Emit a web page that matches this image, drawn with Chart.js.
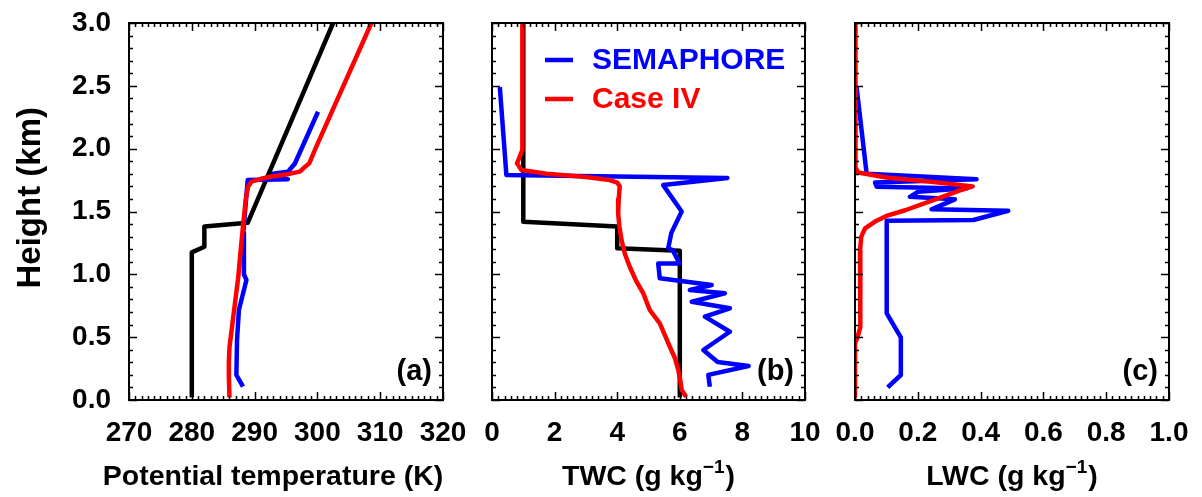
<!DOCTYPE html>
<html><head><meta charset="utf-8">
<script src="https://cdn.jsdelivr.net/npm/chart.js@4.4.0/dist/chart.umd.min.js"></script>
<style>
html,body{margin:0;padding:0;background:#fff;}
#wrap{position:relative;width:1202px;height:497px;overflow:hidden;}
canvas{position:absolute;left:0;top:0;}
</style></head><body>
<div id="wrap">
<canvas id="ca" width="1202" height="497"></canvas>
<canvas id="cb" width="1202" height="497"></canvas>
<canvas id="cc" width="1202" height="497"></canvas>
</div>
<script>
// ---------- data ----------
// panel (a): potential temperature (K) vs height (km)
const aInitTheta = [280, 280, 282, 282, 288.9, 302.5];
const aInitZ     = [0.02, 1.175, 1.22, 1.38, 1.41, 3.0];
const aSemTheta  = [300.1, 296.4, 295.3, 292.9, 295.3, 288.9, 288.2, 288.3, 288.7, 287.5, 287.2, 287.1, 288.15];
const aSemZ      = [2.294, 1.88, 1.816, 1.80, 1.756, 1.75, 1.33, 1.0, 0.955, 0.716, 0.477, 0.199, 0.106];
const aCaseTheta = [308.6, 299.6, 298.7, 297.9, 297.2, 295, 293, 291, 289.5, 288.95, 288.6, 288.15, 287.8, 287.4, 287.0, 286.6, 286.2, 286.0, 285.9, 285.9, 286.0];
const aCaseZ     = [3.0, 1.99, 1.883, 1.85, 1.817, 1.795, 1.78, 1.76, 1.737, 1.697, 1.6, 1.38, 1.2, 0.98, 0.82, 0.66, 0.5, 0.42, 0.3, 0.186, 0.02];

// panel (b): TWC (g/kg)
const bInitTWC = [6.0, 6.0, 4.0, 4.0, 1.0, 1.0];
const bInitZ   = [0.02, 1.188, 1.207, 1.38, 1.419, 3.0];
const bSemTWC  = [0.25, 0.46, 7.52, 5.47, 6.06, 5.73, 5.63, 5.77, 5.99, 5.31, 5.36, 7.02, 6.32, 7.44, 6.38, 7.6, 6.8, 7.6, 6.75, 7.21, 8.2, 6.91, 6.96];
const bSemZ    = [2.49, 1.79, 1.766, 1.71, 1.50, 1.33, 1.207, 1.193, 1.087, 1.087, 0.968, 0.915, 0.875, 0.849, 0.782, 0.73, 0.663, 0.543, 0.398, 0.302, 0.27, 0.2, 0.106];
const bCaseTWC = [0.97, 0.97, 0.8, 0.94, 1.74, 3.0, 3.76, 4.0, 4.08, 4.05, 4.03, 4.07, 4.14, 4.25, 4.40, 4.6, 4.83, 5.04, 5.36, 5.55, 5.68, 5.85, 5.95, 6.02, 6.06, 6.2];
const bCaseZ   = [3.0, 1.99, 1.883, 1.83, 1.80, 1.775, 1.75, 1.73, 1.70, 1.6, 1.485, 1.38, 1.27, 1.16, 1.06, 0.95, 0.85, 0.716, 0.61, 0.5, 0.424, 0.33, 0.24, 0.15, 0.08, 0.026];

// panel (c): LWC (g/kg)
const cSemLWC  = [0.005, 0.037, 0.387, 0.064, 0.069, 0.356, 0.2, 0.175, 0.318, 0.244, 0.488, 0.377, 0.101, 0.101, 0.146, 0.146, 0.104];
const cSemZ    = [2.49, 1.80, 1.756, 1.73, 1.697, 1.684, 1.657, 1.617, 1.597, 1.517, 1.506, 1.432, 1.426, 0.69, 0.499, 0.199, 0.101];
const cCaseLWC = [0, 0, 0.003, 0.01, 0.1, 0.25, 0.375, 0.33, 0.265, 0.16, 0.1, 0.064, 0.032, 0.02, 0.016, 0.017, 0.018, 0.016, 0.008, 0, 0];
const cCaseZ   = [3.0, 1.91, 1.85, 1.81, 1.77, 1.735, 1.70, 1.665, 1.605, 1.51, 1.465, 1.42, 1.366, 1.30, 1.19, 1.0, 0.80, 0.58, 0.5, 0.45, 0.027];

const seriesNames = ['SEMAPHORE', 'Case IV'];
const panelLetters = ['(a)', '(b)', '(c)'];
// x-axis titles as [normal, superscript, normal] text pieces
const xTitles = [
  ['Potential temperature (K)', '', ''],
  ['TWC (g kg', '\u22121', ')'],
  ['LWC (g kg', '\u22121', ')']
];
const yTitle = '   Height (km)';

// ---------- helpers ----------
const FONT = '"Liberation Sans", Arial, Helvetica, sans-serif';
const BLUE = '#0000ff', RED = '#ff0000', BLACK = '#000000';
const pts = (xs, ys) => xs.map((v, i) => ({x: v, y: ys[i]}));

const frameTicks = {
  id: 'frameTicks',
  afterDatasetsDraw(chart, args, o) {
    const {ctx, chartArea: a} = chart;
    const xs = chart.scales.x, ys = chart.scales.y;
    ctx.save();
    ctx.strokeStyle = '#000';
    ctx.lineWidth = 1.5;
    const drawSet = (scale, minor, major, horiz) => {
      const n = Math.round((scale.max - scale.min) / minor);
      for (let i = 0; i <= n; i++) {
        const v = scale.min + i * minor;
        const isMajor = Math.abs(v / major - Math.round(v / major)) < 1e-6;
        const len = isMajor ? 8 : 4;
        const p = Math.round(scale.getPixelForValue(v)) + 0.5;
        ctx.beginPath();
        if (horiz) {
          ctx.moveTo(p, a.bottom); ctx.lineTo(p, a.bottom - len);
          ctx.moveTo(p, a.top); ctx.lineTo(p, a.top + len);
        } else {
          ctx.moveTo(a.left, p); ctx.lineTo(a.left + len, p);
          ctx.moveTo(a.right, p); ctx.lineTo(a.right - len, p);
        }
        ctx.stroke();
      }
    };
    drawSet(xs, o.xMinor, o.xMajor, true);
    drawSet(ys, 0.1, 0.5, false);
    ctx.lineWidth = 2;
    ctx.strokeRect(a.left, a.top, a.right - a.left, a.bottom - a.top);
    ctx.restore();
  }
};

const panelLabel = {
  id: 'panelLabel',
  afterDatasetsDraw(chart, args, o) {
    const {ctx, chartArea: a} = chart;
    ctx.save();
    ctx.font = 'bold 29px ' + FONT;
    ctx.fillStyle = '#000';
    ctx.textAlign = 'right';
    ctx.textBaseline = 'middle';
    ctx.fillText(o.text, a.right - 11, a.bottom - 28);
    ctx.restore();
  }
};

// x-axis title with superscript support, centred under the x scale
const xAxisTitle = {
  id: 'xAxisTitle',
  afterDraw(chart, args, o) {
    const {ctx} = chart;
    const xs = chart.scales.x;
    const [main, sup, tail] = o.parts;
    const fMain = 'bold 28.5px ' + FONT, fSup = 'bold 19px ' + FONT;
    ctx.save();
    ctx.fillStyle = '#000';
    ctx.textBaseline = 'alphabetic';
    ctx.textAlign = 'left';
    ctx.font = fMain; const w1 = ctx.measureText(main).width, w3 = ctx.measureText(tail).width;
    ctx.font = fSup; const w2 = sup ? ctx.measureText(sup).width + 1 : 0;
    const total = w1 + w2 + w3;
    let x = (xs.left + xs.right) / 2 - total / 2 + (o.dx || 0);
    const base = 485;
    ctx.font = fMain; ctx.fillText(main, x, base); x += w1;
    if (sup) { ctx.font = fSup; ctx.fillText(sup, x, base - 12); x += w2; }
    ctx.font = fMain; ctx.fillText(tail, x, base);
    ctx.restore();
  }
};

const innerLegend = {
  id: 'innerLegend',
  afterDatasetsDraw(chart, args, o) {
    if (!o.show) return;
    const {ctx, chartArea: a} = chart;
    ctx.save();
    ctx.font = 'bold 30px ' + FONT;
    ctx.textBaseline = 'middle';
    ctx.textAlign = 'left';
    const items = chart.data.datasets.filter(d => d.legendRank !== undefined)
      .sort((p, q) => p.legendRank - q.legendRank);
    items.forEach((ds, row) => {
      const y = a.top + 37 + row * 39;
      ctx.strokeStyle = ds.borderColor;
      ctx.lineWidth = ds.borderWidth;
      ctx.beginPath();
      ctx.moveTo(a.left + 53, y); ctx.lineTo(a.left + 81, y);
      ctx.stroke();
      ctx.fillStyle = ds.borderColor;
      ctx.fillText(ds.label, a.left + 100, y + 1);
    });
    ctx.restore();
  }
};

function lineDs(label, data, color, legendRank) {
  return {label, data, borderColor: color, backgroundColor: color, borderWidth: 4.5,
    showLine: true, pointRadius: 0, tension: 0, fill: false, legendRank,
    borderJoinStyle: 'round', borderCapStyle: 'butt'};
}

function makeChart(id, cfg) {
  const tickFont = {family: FONT, size: 28, weight: 'bold'};
  const yScale = {
    type: 'linear', min: 0, max: 3,
    display: cfg.showY,
    grid: {display: false, drawTicks: false},
    border: {display: false},
    ticks: {stepSize: 0.5, color: '#000', font: tickFont, padding: 18,
      callback: v => Number(v).toFixed(1)},
    title: {display: true, text: yTitle, color: '#000', font: {family: FONT, size: 33, weight: 'bold'}, padding: {top: 11, bottom: 0}}
  };
  if (cfg.showY) yScale.afterFit = s => { s.width = cfg.left; s.paddingTop = 0; s.paddingBottom = 0; };
  return new Chart(document.getElementById(id), {
    type: 'scatter',
    data: {datasets: cfg.datasets},
    plugins: [frameTicks, panelLabel, innerLegend, xAxisTitle],
    options: {
      responsive: false, animation: false, devicePixelRatio: 1,
      layout: {padding: {left: cfg.showY ? 0 : cfg.left, right: 1202 - cfg.right, top: 23, bottom: 0}},
      plugins: {
        legend: {display: false}, tooltip: {enabled: false},
        frameTicks: {xMinor: cfg.xMinor, xMajor: cfg.xMajor},
        panelLabel: {text: cfg.letter},
        innerLegend: {show: !!cfg.legend},
        xAxisTitle: {parts: cfg.xTitle, dx: cfg.titleDx || 0}
      },
      scales: {
        x: {
          type: 'linear', min: cfg.xMin, max: cfg.xMax,
          grid: {display: false, drawTicks: false},
          border: {display: false},
          ticks: {stepSize: cfg.xMajor, color: '#000', font: tickFont, padding: 16, maxRotation: 0, autoSkip: false,
            callback: cfg.xFmt},
          title: {display: false},
          afterFit: s => { s.height = 97; s.paddingLeft = 0; s.paddingRight = 0; }
        },
        y: yScale
      }
    }
  });
}

makeChart('ca', {
  showY: true, left: 129, right: 443, xMin: 270, xMax: 320, xMajor: 10, xMinor: 1,
  xFmt: v => String(Math.round(v)), xTitle: xTitles[0], letter: panelLetters[0], titleDx: -13,
  datasets: [
    lineDs(seriesNames[1], pts(aCaseTheta, aCaseZ), RED, 1),
    lineDs(seriesNames[0], pts(aSemTheta, aSemZ), BLUE, 0),
    lineDs('Initial', pts(aInitTheta, aInitZ), BLACK)
  ]
});
makeChart('cb', {
  showY: false, left: 492, right: 805, xMin: 0, xMax: 10, xMajor: 2, xMinor: 0.2,
  xFmt: v => String(Math.round(v)), xTitle: xTitles[1], letter: panelLetters[1], legend: true,
  datasets: [
    lineDs(seriesNames[1], pts(bCaseTWC, bCaseZ), RED, 1),
    lineDs(seriesNames[0], pts(bSemTWC, bSemZ), BLUE, 0),
    lineDs('Initial', pts(bInitTWC, bInitZ), BLACK)
  ]
});
makeChart('cc', {
  showY: false, left: 855, right: 1169, xMin: 0, xMax: 1, xMajor: 0.2, xMinor: 0.02,
  xFmt: v => Number(v).toFixed(1), xTitle: xTitles[2], letter: panelLetters[2],
  datasets: [
    lineDs(seriesNames[1], pts(cCaseLWC, cCaseZ), RED, 1),
    lineDs(seriesNames[0], pts(cSemLWC, cSemZ), BLUE, 0)
  ]
});
</script>
</body></html>
